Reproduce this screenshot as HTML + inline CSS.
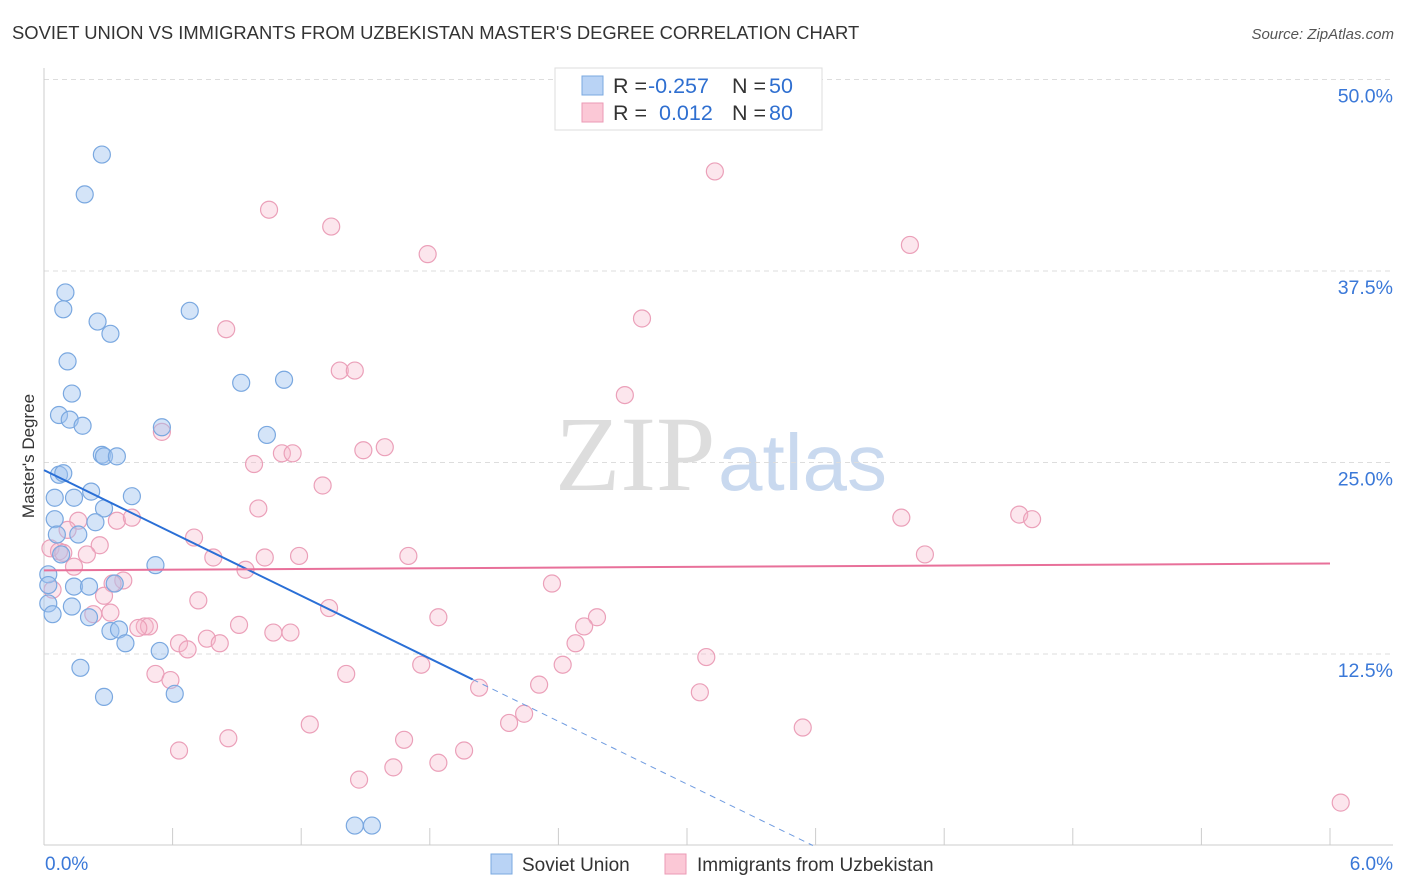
<!DOCTYPE html>
<html><head><meta charset="utf-8"><style>
body{margin:0;background:#fff;font-family:"Liberation Sans",sans-serif;}
svg{display:block}
</style></head><body>
<svg id="c" width="1406" height="892">
<text x="12" y="39" font-size="18.4" fill="#333">SOVIET UNION VS IMMIGRANTS FROM UZBEKISTAN MASTER'S DEGREE CORRELATION CHART</text>
<text x="1394" y="39" font-size="15" fill="#555" font-style="italic" text-anchor="end">Source: ZipAtlas.com</text>
<text x="34" y="456" font-size="17" fill="#333" text-anchor="middle" transform="rotate(-90 34 456)">Master's Degree</text>
<text x="555" y="490" font-size="107" fill="#ddd" font-family="Liberation Serif">ZIP</text>
<text x="718" y="490" font-size="80" fill="#c9d9ef">atlas</text>
<g id="grid"></g><g id="pts"></g><g id="lines"></g>
<g>
<rect x="555" y="68" width="267" height="62" fill="#fff" stroke="#ddd"/>
<rect x="582" y="76" width="21" height="19" fill="#b9d3f5" stroke="#7aa8e0"/>
<rect x="582" y="103" width="21" height="19" fill="#fbc8d6" stroke="#eb9ab5"/>
<text y="93" font-size="21.5"><tspan x="613" fill="#333">R = </tspan><tspan x="648" fill="#2f6fd0">-0.257</tspan><tspan x="732" fill="#333">N = </tspan><tspan x="769" fill="#2f6fd0">50</tspan></text>
<text y="120" font-size="21.5"><tspan x="613" fill="#333">R = </tspan><tspan x="659" fill="#2f6fd0">0.012</tspan><tspan x="732" fill="#333">N = </tspan><tspan x="769" fill="#2f6fd0">80</tspan></text>
</g>
<g>
<rect x="491" y="854" width="21" height="20" fill="#b9d3f5" stroke="#7aa8e0"/>
<text x="522" y="871" font-size="19" fill="#333">Soviet Union</text>
<rect x="665" y="854" width="21" height="20" fill="#fbc8d6" stroke="#eb9ab5"/>
<text x="697" y="871" font-size="19" fill="#333">Immigrants from Uzbekistan</text>
</g>
</svg>
<script>
const xTicks=[0,0.6,1.2,1.8,2.4,3.0,3.6,4.2,4.8,5.4,6.0];
const yTicks=[12.5,25,37.5,50];
const yTickLabels=["12.5%","25.0%","37.5%","50.0%"];
const xEndLabels=["0.0%","6.0%"];
const sovietX=[0.27,0.19,0.10,0.09,0.25,0.31,0.68,0.11,0.13,0.07,0.12,0.18,0.92,1.12,0.55,1.04,0.27,0.28,0.34,0.07,0.09,0.05,0.22,0.14,0.41,0.28,0.05,0.24,0.16,0.06,0.08,0.52,0.02,0.02,0.14,0.21,0.33,0.02,0.13,0.04,0.21,0.31,0.35,0.38,0.54,0.17,0.61,0.28,1.45,1.53];
const sovietY=[45.1,42.5,36.1,35.0,34.2,33.4,34.9,31.6,29.5,28.1,27.8,27.4,30.2,30.4,27.3,26.8,25.5,25.4,25.4,24.2,24.3,22.7,23.1,22.7,22.8,22.0,21.3,21.1,20.3,20.3,19.0,18.3,17.7,17.0,16.9,16.9,17.1,15.8,15.6,15.1,14.9,14.0,14.1,13.2,12.7,11.6,9.9,9.7,1.3,1.3];
const uzbekX=[3.13,1.05,1.34,1.79,4.04,0.85,2.79,1.38,1.45,2.71,0.55,1.59,1.49,1.11,1.16,0.98,1.30,1.00,4.55,4.61,4.00,0.34,0.41,0.16,0.11,0.70,0.03,0.07,0.09,0.26,0.20,0.79,1.03,1.19,1.70,4.11,0.14,0.94,0.37,0.32,2.37,0.04,0.28,0.72,1.33,0.23,0.31,1.84,2.58,0.47,0.49,0.44,0.91,2.52,1.07,1.15,0.63,0.76,0.82,0.67,2.48,2.42,3.09,1.76,0.52,1.41,0.59,2.03,2.31,3.06,2.24,2.17,1.24,3.54,0.86,0.63,1.68,1.96,1.84,1.47,1.63,6.05];
const uzbekY=[44.0,41.5,40.4,38.6,39.2,33.7,34.4,31.0,31.0,29.4,27.0,26.0,25.8,25.6,25.6,24.9,23.5,22.0,21.6,21.3,21.4,21.2,21.4,21.2,20.6,20.1,19.4,19.2,19.1,19.6,19.0,18.8,18.8,18.9,18.9,19.0,18.2,18.0,17.3,17.1,17.1,16.7,16.3,16.0,15.5,15.1,15.2,14.9,14.9,14.3,14.3,14.2,14.4,14.3,13.9,13.9,13.2,13.5,13.2,12.8,13.2,11.8,12.3,11.8,11.2,11.2,10.8,10.3,10.5,10.0,8.6,8.0,7.9,7.7,7.0,6.2,6.9,6.2,5.4,4.3,5.1,2.8];
const sovietTrend=[24.5,-6.83];
const uzbekTrend=[17.96,18.41];
const NS="http://www.w3.org/2000/svg";
const X=v=>44+v/6*1286, Y=v=>845.5-v*15.32;
function mk(t,a,p){const e=document.createElementNS(NS,t);for(const k in a)e.setAttribute(k,a[k]);p.appendChild(e);return e;}
const grid=document.getElementById('grid');
yTicks.forEach((t,i)=>{
 const l=mk('line',{x1:44,x2:1393,y1:Y(t),y2:Y(t),stroke:'#ddd','stroke-dasharray':'5,4'},grid);
 
 
 const tx=mk('text',{x:1393,y:Y(t)+23,'font-size':19.5,fill:'#3a78d8','text-anchor':'end'},grid);
 tx.textContent=yTickLabels[i];
 
 
});
const ax=mk('line',{x1:44,x2:1393,y1:845,y2:845,stroke:'#ccc'},grid);


const ay=mk('line',{x1:44,x2:44,y1:68,y2:845,stroke:'#ccc'},grid);


xTicks.forEach(t=>{
 const l=mk('line',{x1:X(t),x2:X(t),y1:828,y2:845,stroke:'#ccc'},grid);
 
 
});
[[0,'start',xEndLabels[0]],[6,'end',xEndLabels[1]]].forEach(([v,a,s])=>{
 const tx=mk('text',{x:v==0?X(v)+1:1393,y:870,'font-size':19,fill:'#3a78d8','text-anchor':a},grid);
 tx.textContent=s;
 
 
});
const pts=document.getElementById('pts');
uzbekX.forEach((x,i)=>{
 const c=mk('circle',{cx:X(x),cy:Y(uzbekY[i]),r:8.5,fill:'rgba(247,182,202,0.35)',stroke:'#eba0b9','stroke-width':1.2},pts);
 
 
});
sovietX.forEach((x,i)=>{
 const c=mk('circle',{cx:X(x),cy:Y(sovietY[i]),r:8.5,fill:'rgba(160,195,240,0.45)',stroke:'#7aa8e0','stroke-width':1.2},pts);
 
 
});
const lines=document.getElementById('lines');
const sy=x=>sovietTrend[0]+sovietTrend[1]*x;
const l1=mk('line',{x1:X(0),y1:Y(sy(0)),x2:X(2.0),y2:Y(sy(2.0)),stroke:'#2a6fd6','stroke-width':2},lines);


const xe=-sovietTrend[0]/sovietTrend[1];
const l2=mk('line',{x1:X(2.0),y1:Y(sy(2.0)),x2:X(xe),y2:Y(0),stroke:'#6f9be0','stroke-width':1,'stroke-dasharray':'6,5'},lines);


const l3=mk('line',{x1:X(0),y1:Y(uzbekTrend[0]),x2:X(6),y2:Y(uzbekTrend[1]),stroke:'#e8709a','stroke-width':2},lines);


</script>
</body></html>
